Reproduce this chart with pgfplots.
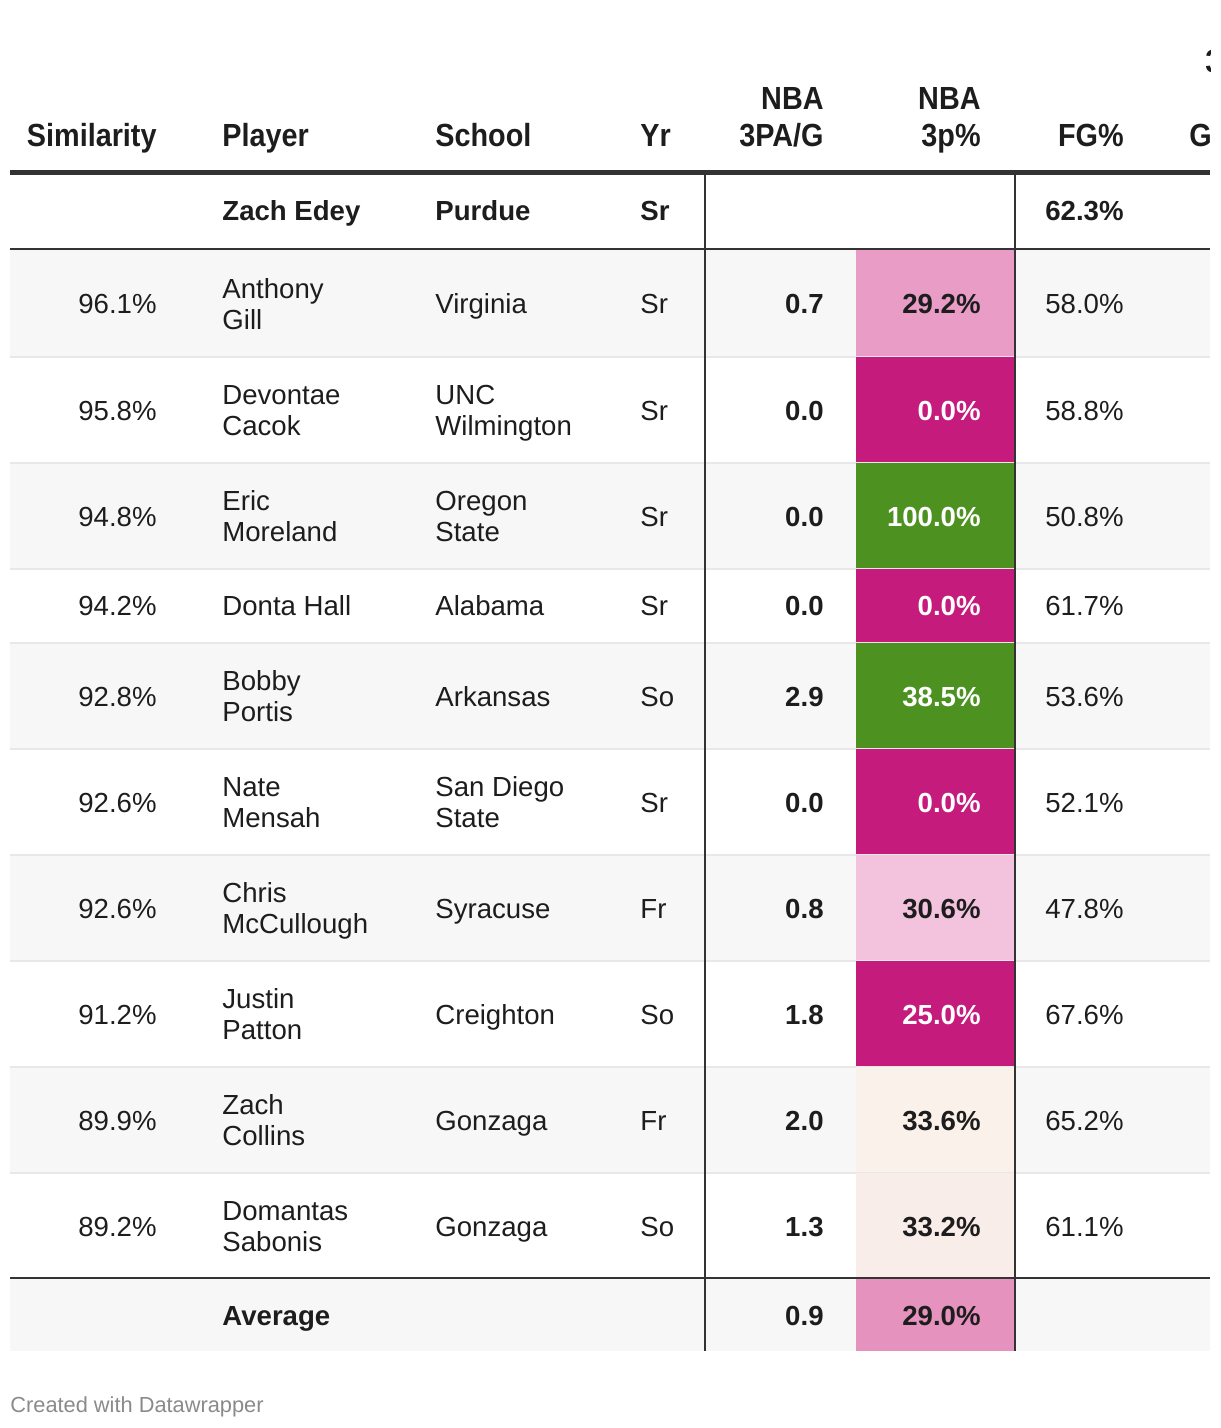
\documentclass[border=0pt]{standalone}
\usepackage{pgfplots}
\pgfplotsset{compat=1.18}
\usepackage{fontspec}
\setmainfont{Liberation Sans}
\newfontfamily\hdfont{Liberation Sans}[FakeStretch=0.9]

\definecolor{ink}{HTML}{1D1D1D}
\definecolor{rule}{HTML}{333333}
\definecolor{sep}{HTML}{E8E8E8}
\definecolor{rowgray}{HTML}{F7F7F7}
\definecolor{foot}{HTML}{8A8A8A}
\definecolor{pgMag}{HTML}{C51B7D}
\definecolor{pgGreen}{HTML}{4D9221}
\definecolor{pgPinkA}{HTML}{E99DC6}
\definecolor{pgPinkB}{HTML}{F3C3DE}
\definecolor{pgPinkC}{HTML}{FAF1EB}
\definecolor{pgPinkD}{HTML}{F9EDEA}
\definecolor{pgAvg}{HTML}{E592BE}

% 1px of the reference = 0.5pt
\newcommand{\bodyfont}{\fontsize{13.8}{16}\selectfont}
\newcommand{\headfont}{\fontsize{16}{19}\selectfont\hdfont\bfseries}
\newcommand{\txtl}[3]{\node[anchor=base west,inner sep=0pt,font=\bodyfont,text=ink] at (axis cs:#1,#2) {#3};}
\newcommand{\txtr}[4][ink]{\node[anchor=base east,inner sep=0pt,font=\bodyfont,text=#1] at (axis cs:#2,#3) {#4};}
\newcommand{\hdl}[3]{\node[anchor=base west,inner sep=0pt,font=\headfont,text=ink] at (axis cs:#1,#2) {#3};}
\newcommand{\hdr}[3]{\node[anchor=base east,inner sep=0pt,font=\headfont,text=ink] at (axis cs:#1,#2) {#3};}
\newcommand{\cell}[5]{\addplot[fill=#5,draw=none] coordinates {(#1,#3) (#2,#3) (#2,#4) (#1,#4)} --cycle;}

\begin{document}
\begin{tikzpicture}
% the table is cut at x=1210, the page runs on to 1220
\begin{axis}[width=605pt,height=714pt,scale only axis,
  xmin=0,xmax=1210,ymin=0,ymax=1428,y dir=reverse,
  axis lines=none,clip=true]

% striped row backgrounds
\cell{10}{1210}{250}{357}{rowgray}
\cell{10}{1210}{463}{569}{rowgray}
\cell{10}{1210}{643}{749}{rowgray}
\cell{10}{1210}{855}{961}{rowgray}
\cell{10}{1210}{1067}{1173}{rowgray}
\cell{10}{1210}{1279}{1351}{rowgray}

% light row separators
\pgfplotsinvokeforeach{357,463,569,643,749,855,961,1067,1173}{
  \addplot[draw=sep,line width=1pt] coordinates {(10,#1) (1210,#1)};
}

% NBA 3p% colour scale cells
\cell{856}{1014}{250}{356}{pgPinkA}
\cell{856}{1014}{357}{462}{pgMag}
\cell{856}{1014}{463}{568}{pgGreen}
\cell{856}{1014}{569}{642}{pgMag}
\cell{856}{1014}{643}{748}{pgGreen}
\cell{856}{1014}{749}{854}{pgMag}
\cell{856}{1014}{855}{960}{pgPinkB}
\cell{856}{1014}{961}{1066}{pgMag}
\cell{856}{1014}{1067}{1172}{pgPinkC}
\cell{856}{1014}{1173}{1278}{pgPinkD}
\cell{856}{1014}{1279}{1351}{pgAvg}

% dark rules
\addplot[draw=rule,line width=2.5pt] coordinates {(10,172.5) (1210,172.5)};
\addplot[draw=rule,line width=1pt] coordinates {(10,249) (1210,249)};
\addplot[draw=rule,line width=1pt] coordinates {(10,1278) (1210,1278)};
\addplot[draw=rule,line width=1pt] coordinates {(705,175) (705,1351)};
\addplot[draw=rule,line width=1pt] coordinates {(1015,175) (1015,1351)};

% header
\hdr{157}{147}{Similarity}
\hdl{222}{147}{Player}
\hdl{435}{147}{School}
\hdl{640}{147}{Yr}
\hdr{824}{110}{NBA}
\hdr{824}{147}{3PA/G}
\hdr{981}{110}{NBA}
\hdr{981}{147}{3p\%}
\hdr{1124}{147}{FG\%}
\hdl{1189}{147}{G}
\hdl{1205}{73}{3}

% reference player
\txtl{222}{221}{\bfseries Zach Edey}
\txtl{435}{221}{\bfseries Purdue}
\txtl{640}{221}{\bfseries Sr}
\txtr{1124}{221}{\bfseries 62.3\%}

% row 1
\txtr{157}{314}{96.1\%}
\txtl{222}{298.5}{Anthony}
\txtl{222}{329.5}{Gill}
\txtl{435}{314}{Virginia}
\txtl{640}{314}{Sr}
\txtr{824}{314}{\bfseries 0.7}
\txtr{981}{314}{\bfseries 29.2\%}
\txtr{1124}{314}{58.0\%}

% row 2
\txtr{157}{420}{95.8\%}
\txtl{222}{404.5}{Devontae}
\txtl{222}{435.5}{Cacok}
\txtl{435}{404.5}{UNC}
\txtl{435}{435.5}{Wilmington}
\txtl{640}{420}{Sr}
\txtr{824}{420}{\bfseries 0.0}
\txtr[white]{981}{420}{\bfseries 0.0\%}
\txtr{1124}{420}{58.8\%}

% row 3
\txtr{157}{526}{94.8\%}
\txtl{222}{510.5}{Eric}
\txtl{222}{541.5}{Moreland}
\txtl{435}{510.5}{Oregon}
\txtl{435}{541.5}{State}
\txtl{640}{526}{Sr}
\txtr{824}{526}{\bfseries 0.0}
\txtr[white]{981}{526}{\bfseries 100.0\%}
\txtr{1124}{526}{50.8\%}

% row 4
\txtr{157}{615}{94.2\%}
\txtl{222}{615}{Donta Hall}
\txtl{435}{615}{Alabama}
\txtl{640}{615}{Sr}
\txtr{824}{615}{\bfseries 0.0}
\txtr[white]{981}{615}{\bfseries 0.0\%}
\txtr{1124}{615}{61.7\%}

% row 5
\txtr{157}{706}{92.8\%}
\txtl{222}{690.5}{Bobby}
\txtl{222}{721.5}{Portis}
\txtl{435}{706}{Arkansas}
\txtl{640}{706}{So}
\txtr{824}{706}{\bfseries 2.9}
\txtr[white]{981}{706}{\bfseries 38.5\%}
\txtr{1124}{706}{53.6\%}

% row 6
\txtr{157}{812}{92.6\%}
\txtl{222}{796.5}{Nate}
\txtl{222}{827.5}{Mensah}
\txtl{435}{796.5}{San Diego}
\txtl{435}{827.5}{State}
\txtl{640}{812}{Sr}
\txtr{824}{812}{\bfseries 0.0}
\txtr[white]{981}{812}{\bfseries 0.0\%}
\txtr{1124}{812}{52.1\%}

% row 7
\txtr{157}{918}{92.6\%}
\txtl{222}{902.5}{Chris}
\txtl{222}{933.5}{McCullough}
\txtl{435}{918}{Syracuse}
\txtl{640}{918}{Fr}
\txtr{824}{918}{\bfseries 0.8}
\txtr{981}{918}{\bfseries 30.6\%}
\txtr{1124}{918}{47.8\%}

% row 8
\txtr{157}{1024}{91.2\%}
\txtl{222}{1008.5}{Justin}
\txtl{222}{1039.5}{Patton}
\txtl{435}{1024}{Creighton}
\txtl{640}{1024}{So}
\txtr{824}{1024}{\bfseries 1.8}
\txtr[white]{981}{1024}{\bfseries 25.0\%}
\txtr{1124}{1024}{67.6\%}

% row 9
\txtr{157}{1130}{89.9\%}
\txtl{222}{1114.5}{Zach}
\txtl{222}{1145.5}{Collins}
\txtl{435}{1130}{Gonzaga}
\txtl{640}{1130}{Fr}
\txtr{824}{1130}{\bfseries 2.0}
\txtr{981}{1130}{\bfseries 33.6\%}
\txtr{1124}{1130}{65.2\%}

% row 10
\txtr{157}{1236}{89.2\%}
\txtl{222}{1220.5}{Domantas}
\txtl{222}{1251.5}{Sabonis}
\txtl{435}{1236}{Gonzaga}
\txtl{640}{1236}{So}
\txtr{824}{1236}{\bfseries 1.3}
\txtr{981}{1236}{\bfseries 33.2\%}
\txtr{1124}{1236}{61.1\%}

% average
\txtl{222}{1325}{\bfseries Average}
\txtr{824}{1325}{\bfseries 0.9}
\txtr{981}{1325}{\bfseries 29.0\%}

% footer
\node[anchor=base west,inner sep=0pt,font=\fontsize{10.9}{13}\selectfont,text=foot]
  at (axis cs:10,1412) {Created with Datawrapper};
\end{axis}
\pgfresetboundingbox
\useasboundingbox (current axis.south west) rectangle ([xshift=5pt]current axis.north east);
\end{tikzpicture}
\end{document}
